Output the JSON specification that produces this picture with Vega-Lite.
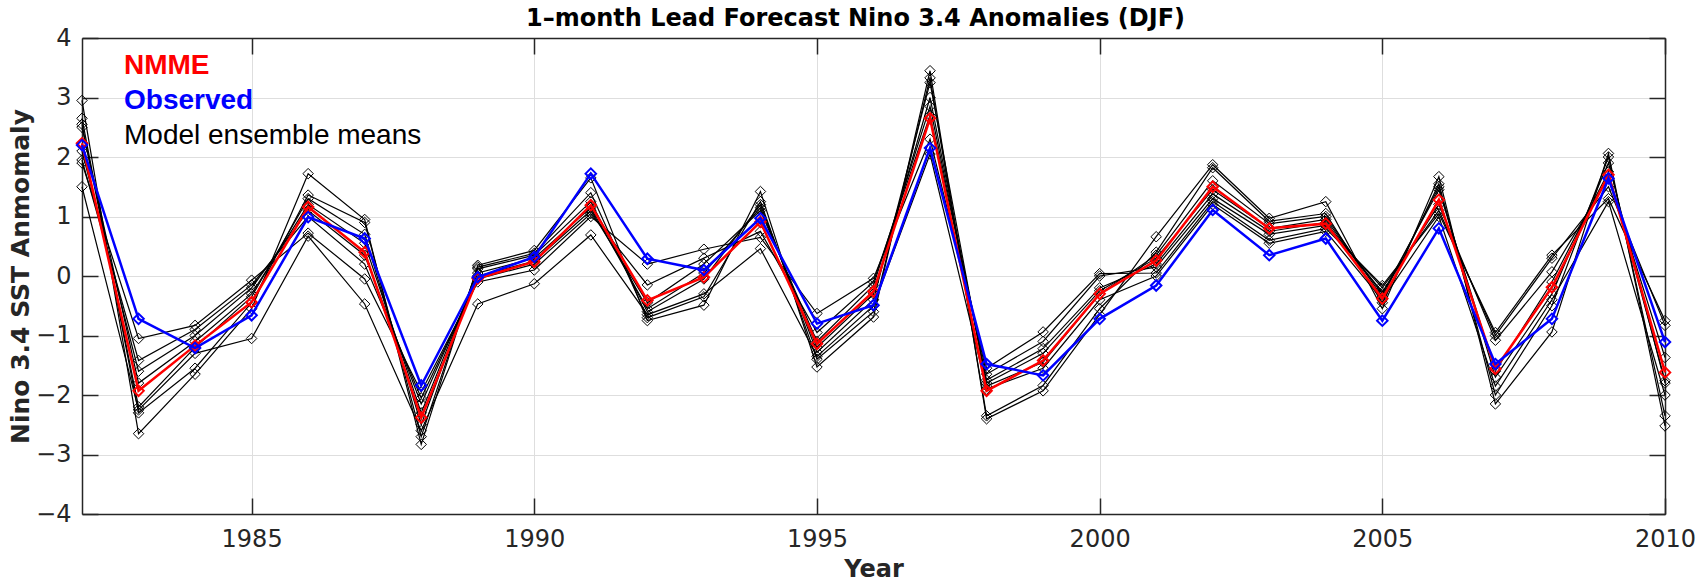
{
  "$schema": "https://vega.github.io/schema/vega-lite/v6.json",
  "width": 1583,
  "height": 476,
  "autosize": "none",
  "padding": {"left": 82, "top": 38, "right": 43, "bottom": 70},
  "background": "white",
  "title": {"text": "1–month Lead Forecast Nino 3.4 Anomalies (DJF)", "font": "DejaVu Sans", "fontSize": 24, "fontWeight": "bold", "color": "#000000", "offset": -5, "dx": -18, "anchor": "middle"},
  "config": {"view": {"stroke": null}, "font": "DejaVu Sans"},
  "data": {"values": [
    {"year": 1982, "M1": 2.95, "M2": 2.65, "M3": 1.5, "M4": 2.55, "M5": 2.5, "M6": 2.1, "M7": 1.95, "M8": 1.9, "NMME": 2.23, "Observed": 2.2},
    {"year": 1983, "M1": -2.65, "M2": -2.3, "M3": -2.25, "M4": -2.2, "M5": -1.8, "M6": -1.6, "M7": -1.42, "M8": -1.05, "NMME": -1.93, "Observed": -0.72},
    {"year": 1984, "M1": -1.65, "M2": -1.55, "M3": -1.3, "M4": -1.2, "M5": -1.1, "M6": -1.0, "M7": -0.9, "M8": -0.83, "NMME": -1.17, "Observed": -1.21},
    {"year": 1985, "M1": -0.55, "M2": -0.45, "M3": -1.05, "M4": -0.35, "M5": -0.3, "M6": -0.2, "M7": -0.15, "M8": -0.07, "NMME": -0.44, "Observed": -0.66},
    {"year": 1986, "M1": 1.72, "M2": 1.36, "M3": 0.67, "M4": 1.3, "M5": 1.2, "M6": 1.1, "M7": 1.0, "M8": 0.72, "NMME": 1.16, "Observed": 0.99},
    {"year": 1987, "M1": 0.95, "M2": 0.9, "M3": -0.47, "M4": 0.7, "M5": 0.55, "M6": 0.35, "M7": 0.2, "M8": -0.05, "NMME": 0.4, "Observed": 0.63},
    {"year": 1988, "M1": -2.83, "M2": -2.7, "M3": -2.6, "M4": -2.5, "M5": -2.3, "M6": -2.15, "M7": -2.05, "M8": -1.95, "NMME": -2.38, "Observed": -1.84},
    {"year": 1989, "M1": 0.18, "M2": 0.15, "M3": -0.47, "M4": 0.12, "M5": 0.05, "M6": 0.0, "M7": -0.05, "M8": -0.1, "NMME": -0.04, "Observed": -0.02},
    {"year": 1990, "M1": 0.43, "M2": 0.38, "M3": -0.13, "M4": 0.35, "M5": 0.3, "M6": 0.25, "M7": 0.2, "M8": 0.1, "NMME": 0.24, "Observed": 0.32},
    {"year": 1991, "M1": 1.65, "M2": 1.4, "M3": 0.69, "M4": 1.25, "M5": 1.15, "M6": 1.1, "M7": 1.05, "M8": 1.0, "NMME": 1.19, "Observed": 1.72},
    {"year": 1992, "M1": -0.75, "M2": -0.7, "M3": -0.65, "M4": -0.6, "M5": -0.55, "M6": -0.45, "M7": -0.15, "M8": 0.2, "NMME": -0.41, "Observed": 0.29},
    {"year": 1993, "M1": -0.49, "M2": -0.35, "M3": -0.3, "M4": -0.05, "M5": 0.05, "M6": 0.2, "M7": 0.3, "M8": 0.45, "NMME": -0.02, "Observed": 0.1},
    {"year": 1994, "M1": 1.42, "M2": 1.25, "M3": 0.46, "M4": 1.2, "M5": 1.15, "M6": 1.1, "M7": 0.75, "M8": 0.65, "NMME": 0.91, "Observed": 0.97},
    {"year": 1995, "M1": -1.53, "M2": -1.4, "M3": -1.35, "M4": -1.28, "M5": -1.2, "M6": -1.1, "M7": -0.95, "M8": -0.63, "NMME": -1.14, "Observed": -0.8},
    {"year": 1996, "M1": -0.69, "M2": -0.6, "M3": -0.5, "M4": -0.4, "M5": -0.3, "M6": -0.16, "M7": -0.1, "M8": -0.04, "NMME": -0.26, "Observed": -0.49},
    {"year": 1997, "M1": 3.45, "M2": 3.33, "M3": 2.05, "M4": 3.25, "M5": 3.0, "M6": 2.85, "M7": 2.7, "M8": 2.3, "NMME": 2.65, "Observed": 2.15},
    {"year": 1998, "M1": -2.4, "M2": -2.35, "M3": -1.9, "M4": -1.85, "M5": -1.8, "M6": -1.75, "M7": -1.65, "M8": -1.55, "NMME": -1.93, "Observed": -1.48},
    {"year": 1999, "M1": -1.93, "M2": -1.84, "M3": -1.55, "M4": -1.45, "M5": -1.3, "M6": -1.22, "M7": -1.1, "M8": -0.94, "NMME": -1.42, "Observed": -1.67},
    {"year": 2000, "M1": -0.65, "M2": -0.55, "M3": -0.4, "M4": -0.3, "M5": -0.25, "M6": -0.2, "M7": 0.0, "M8": 0.04, "NMME": -0.3, "Observed": -0.72},
    {"year": 2001, "M1": 0.66, "M2": 0.4, "M3": 0.0, "M4": 0.35, "M5": 0.3, "M6": 0.2, "M7": 0.15, "M8": 0.05, "NMME": 0.26, "Observed": -0.16},
    {"year": 2002, "M1": 1.87, "M2": 1.82, "M3": 1.2, "M4": 1.6, "M5": 1.45, "M6": 1.38, "M7": 1.3, "M8": 1.25, "NMME": 1.5, "Observed": 1.11},
    {"year": 2003, "M1": 0.97, "M2": 0.92, "M3": 0.55, "M4": 0.88, "M5": 0.8, "M6": 0.75, "M7": 0.7, "M8": 0.6, "NMME": 0.8, "Observed": 0.35},
    {"year": 2004, "M1": 1.25, "M2": 1.05, "M3": 0.75, "M4": 1.0, "M5": 0.95, "M6": 0.9, "M7": 0.85, "M8": 0.8, "NMME": 0.88, "Observed": 0.63},
    {"year": 2005, "M1": -0.55, "M2": -0.45, "M3": -0.4, "M4": -0.35, "M5": -0.3, "M6": -0.27, "M7": -0.2, "M8": -0.16, "NMME": -0.38, "Observed": -0.75},
    {"year": 2006, "M1": 1.67, "M2": 1.55, "M3": 1.0, "M4": 1.5, "M5": 1.45, "M6": 1.2, "M7": 1.1, "M8": 1.05, "NMME": 1.28, "Observed": 0.8},
    {"year": 2007, "M1": -2.15, "M2": -2.0, "M3": -1.85, "M4": -1.7, "M5": -1.6, "M6": -1.08, "M7": -1.0, "M8": -0.95, "NMME": -1.56, "Observed": -1.48},
    {"year": 2008, "M1": -0.94, "M2": -0.5, "M3": -0.4, "M4": -0.3, "M5": -0.1, "M6": 0.07, "M7": 0.3, "M8": 0.35, "NMME": -0.19, "Observed": -0.72},
    {"year": 2009, "M1": 2.06, "M2": 2.0, "M3": 1.25, "M4": 1.9, "M5": 1.75, "M6": 1.65, "M7": 1.5, "M8": 1.3, "NMME": 1.7, "Observed": 1.64},
    {"year": 2010, "M1": -2.52, "M2": -2.35, "M3": -2.0, "M4": -1.8, "M5": -1.76, "M6": -1.37, "M7": -0.83, "M8": -0.75, "NMME": -1.62, "Observed": -1.11}
  ]},
  "layer": [
    {
      "transform": [{"fold": ["M1", "M2", "M3", "M4", "M5", "M6", "M7", "M8"], "as": ["model", "anomaly"]}],
      "mark": {"type": "line", "strokeWidth": 1.2, "point": {"shape": "diamond", "filled": false, "size": 110, "strokeWidth": 1}},
      "encoding": {
        "x": {"field": "year", "type": "quantitative", "scale": {"domain": [1982, 2010], "nice": false, "zero": false},
          "axis": {"orient": "bottom", "values": [1985, 1990, 1995, 2000, 2005, 2010], "format": "d", "title": "Year", "grid": true, "gridColor": "#dedede", "gridWidth": 1, "tickSize": -16, "tickColor": "#262626", "tickWidth": 1.5, "domainColor": "#262626", "domainWidth": 1.5, "labelFont": "DejaVu Sans", "labelFontSize": 24, "labelColor": "#262626", "labelPadding": 29, "labelFlush": false, "titleFont": "DejaVu Sans", "titleFontSize": 24, "titleFontWeight": "bold", "titleColor": "#262626", "titlePadding": 6}},
        "y": {"field": "anomaly", "type": "quantitative", "scale": {"domain": [-4, 4], "nice": false, "zero": false},
          "axis": {"orient": "left", "values": [-4, -3, -2, -1, 0, 1, 2, 3, 4], "format": "d", "title": "Nino 3.4 SST Anmomaly", "grid": true, "gridColor": "#dedede", "gridWidth": 1, "tickSize": -16, "tickColor": "#262626", "tickWidth": 1.5, "domainColor": "#262626", "domainWidth": 1.5, "labelFont": "DejaVu Sans", "labelFontSize": 24, "labelColor": "#262626", "labelPadding": 27, "titleFont": "DejaVu Sans", "titleFontSize": 25, "titleFontWeight": "bold", "titleColor": "#262626", "titlePadding": 2}},
        "detail": {"field": "model"},
        "color": {"datum": "Model ensemble means", "type": "nominal",
          "scale": {"domain": ["NMME", "Observed", "Model ensemble means"], "range": ["#ff0000", "#0000ff", "#000000"]},
          "legend": {"orient": "top-left", "offset": 14, "padding": 0, "title": null, "symbolSize": 0, "symbolOpacity": 0, "symbolStrokeWidth": 0, "labelOffset": 0, "labelFont": "Liberation Sans", "labelFontSize": 28, "rowPadding": 7, "labelLimit": 0,
            "encode": {"labels": {"update": {
              "fill": {"signal": "datum.label === 'NMME' ? '#ff0000' : datum.label === 'Observed' ? '#0000ff' : '#000000'"},
              "fontWeight": {"signal": "datum.label === 'Model ensemble means' ? 'normal' : 'bold'"}}}}}}
      }
    },
    {
      "mark": {"type": "line", "strokeWidth": 2.5, "point": {"shape": "diamond", "filled": false, "size": 110, "strokeWidth": 2}},
      "encoding": {
        "x": {"field": "year", "type": "quantitative", "axis": {"orient": "top", "values": [1985, 1990, 1995, 2000, 2005, 2010], "labels": false, "title": null, "grid": false, "tickSize": -16, "tickColor": "#262626", "tickWidth": 1.5, "domainColor": "#262626", "domainWidth": 1.5}},
        "y": {"field": "NMME", "type": "quantitative", "axis": {"orient": "right", "values": [-4, -3, -2, -1, 0, 1, 2, 3, 4], "labels": false, "title": null, "grid": false, "tickSize": -16, "tickColor": "#262626", "tickWidth": 1.5, "domainColor": "#262626", "domainWidth": 1.5}},
        "color": {"datum": "NMME", "type": "nominal"}
      }
    },
    {
      "mark": {"type": "line", "strokeWidth": 2.5, "point": {"shape": "diamond", "filled": false, "size": 110, "strokeWidth": 2}},
      "encoding": {
        "x": {"field": "year", "type": "quantitative", "axis": null},
        "y": {"field": "Observed", "type": "quantitative", "axis": null},
        "color": {"datum": "Observed", "type": "nominal"}
      }
    }
  ],
  "resolve": {"axis": {"x": "independent", "y": "independent"}}
}
